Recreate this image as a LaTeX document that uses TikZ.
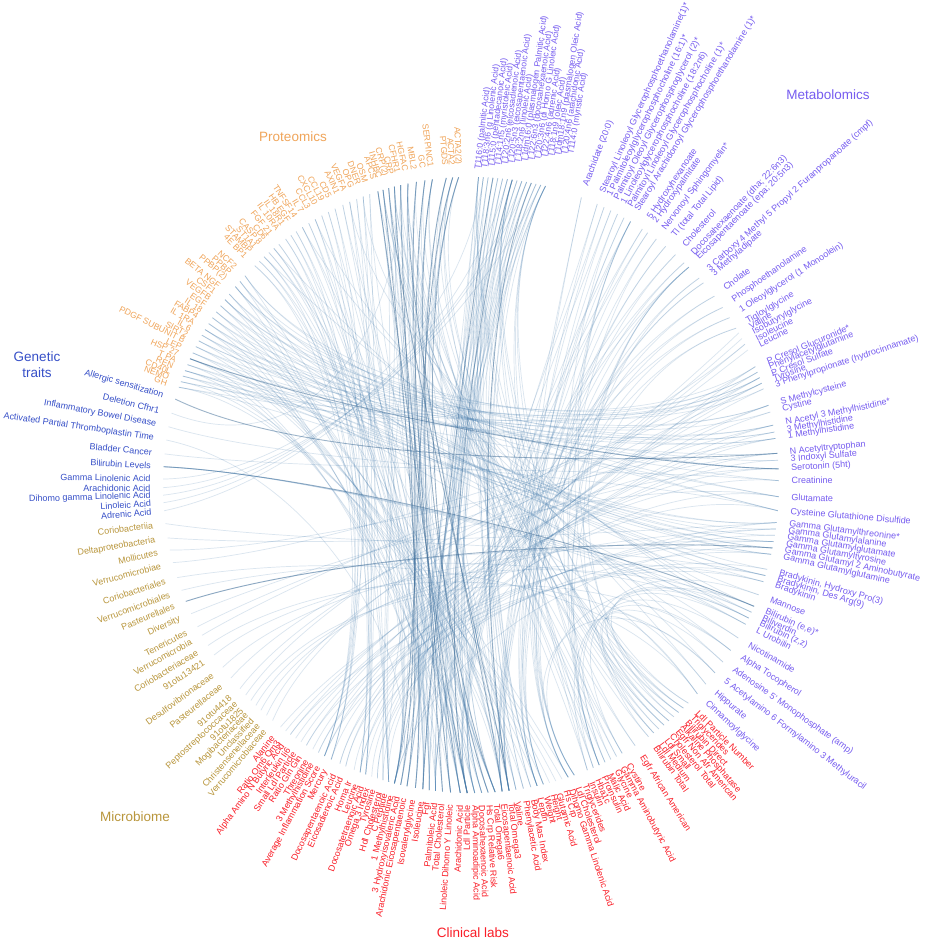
\documentclass[tikz,border=0pt]{standalone}
\usepackage{fontspec}
\setmainfont{Liberation Sans}
\usetikzlibrary{calc}
\definecolor{protC}{RGB}{240,165,90}
\definecolor{metaC}{RGB}{118,92,240}
\definecolor{geneC}{RGB}{55,80,200}
\definecolor{micrC}{RGB}{185,150,60}
\definecolor{clinC}{RGB}{250,30,40}
\definecolor{lineC}{RGB}{70,125,175}
\def\Rl{308}
\def\Rt{320}
\def\curhub{O}
\newcommand\labR[4]{\coordinate (#1) at (#2:\Rl); \coordinate (h#1) at ($(\curhub)!0.12!(#1)$); \node[#4,anchor=west,rotate=#2] (t#1) at (#2:\Rt) {#3};}
\newcommand\labL[4]{\coordinate (#1) at (#2:\Rl); \coordinate (h#1) at ($(\curhub)!0.12!(#1)$); \node[#4,anchor=east,rotate=#2+180] (t#1) at (#2:\Rt) {#3};}
\newcommand\labT[6]{\coordinate (#1) at (#2:\Rl); \coordinate (h#1) at ($(\curhub)!0.12!(#1)$); \node[#4,anchor=west,rotate=#6] (t#1) at (#5) {#3};}
\newcommand\chord[3][chord]{\draw[#1] (#2) .. controls (h#2) and (h#3) .. (#3);}
\begin{document}
\begin{tikzpicture}[x=1pt,y=1pt,
 lbl/.style={font=\fontsize{9}{10}\selectfont, inner sep=0.5pt},
 prot/.style={lbl,text=protC,font=\fontsize{8.6}{10}\selectfont},
 meta/.style={lbl,text=metaC},
 tmeta/.style={lbl,text=metaC,font=\fontsize{8.6}{10}\selectfont},
 gene/.style={lbl,text=geneC},
 micr/.style={lbl,text=micrC},
 clin/.style={lbl,text=clinC},
 chord/.style={draw=lineC,line width=0.7pt,opacity=0.2},
 chordD/.style={draw=lineC!85!black,line width=0.9pt,opacity=0.5},
 title/.style={font=\fontsize{13.5}{16}\selectfont,inner sep=0pt}]
\fill[white] (-471,-457) rectangle (455,485);
\useasboundingbox (-471,-457) rectangle (455,485);
\coordinate (O) at (0,0);
% bundle hubs
\coordinate (hP1) at (-130,70);
\coordinate (hP2) at (-95,115);
\coordinate (hP3) at (-70,140);
\coordinate (hM1) at (-10,135);
\coordinate (hM2) at (70,95);
\coordinate (hM3) at (130,20);
\coordinate (hM4) at (115,-50);
\coordinate (hC1) at (70,-130);
\coordinate (hC2) at (10,-150);
\coordinate (hC3) at (-40,-145);
\coordinate (hC4) at (-90,-125);
\coordinate (hB) at (-125,-65);
\coordinate (hG) at (-140,10);
% ---------------- Proteomics
\def\curhub{hP1}
\labL{p1}{161.5}{GH}{prot}
\labL{p2}{160.4}{NEMO}{prot}
\labL{p3}{159.3}{CD40L}{prot}
\labL{p4}{158.2}{REN}{prot}
\labL{p5}{157.0}{T PA}{prot}
\labL{p6}{155.8}{HSP 27}{prot}
\labL{p7}{154.6}{LEP}{prot}
\labL{p8}{153.3}{PDGF SUBUNIT B}{prot}
\labL{p9}{152.1}{SIRT2}{prot}
\labL{p10}{150.9}{IL 6}{prot}
\labL{p11}{149.7}{IL 1RA}{prot}
\labL{p12}{148.4}{FABP4}{prot}
\labL{p13}{147.1}{IL 18}{prot}
\labL{p14}{145.8}{EGF}{prot}
\labL{p15}{144.4}{VEGFB}{prot}
\labL{p16}{143.0}{CSF1}{prot}
\labL{p17}{141.7}{BETA NGF}{prot}
\labL{p18}{139.9}{PPBP(2)}{prot}
\labL{p19}{138.6}{PPBP}{prot}
\labL{p20}{137.2}{NCF2}{prot}
\def\curhub{hP2}
\labL{p21}{134.6}{4E BP1}{prot}
\labL{p22}{133.4}{STAMBP}{prot}
\labL{p23}{132.2}{ST1A1}{prot}
\labL{p24}{131.0}{CASP 8}{prot}
\labL{p25}{129.8}{CD6}{prot}
\labL{p26}{128.6}{FGF 21}{prot}
\labL{p27}{127.0}{IL 10RA}{prot}
\labL{p28}{125.8}{IL 18R1}{prot}
\labL{p29}{124.6}{HB EGF}{prot}
\labL{p30}{123.2}{TNFSF14}{prot}
\labL{p31}{121.8}{IL 7}{prot}
\labL{p32}{120.4}{CCL3}{prot}
\labL{p33}{119.0}{CXCL10}{prot}
\labL{p34}{117.6}{CCL19}{prot}
\labL{p35}{116.2}{CD5}{prot}
\labL{p36}{114.6}{AXIN1}{prot}
\labL{p37}{113.2}{VEGFA}{prot}
\labL{p38}{111.8}{OPG}{prot}
\labL{p39}{110.5}{DNER}{prot}
\labL{p40}{109.2}{OSM}{prot}
\def\curhub{hP3}
\labL{p41}{107.6}{APCS}{prot}
\labL{p42}{106.6}{INHBC}{prot}
\labL{p43}{105.5}{CRP(2)}{prot}
\labL{p44}{104.4}{CRP}{prot}
\labL{p45}{103.2}{CFHR1}{prot}
\labL{p46}{101.8}{HGFAC}{prot}
\labL{p47}{100.2}{MBL2}{prot}
\labL{p48}{98.6}{GC}{prot}
\labL{p49}{97.2}{SERPINC1}{prot}
\labL{p50}{94.6}{PTGDS}{prot}
\labL{p51}{93.4}{ACTA2}{prot}
\labL{p52}{92.3}{ACTA2(2)}{prot}
% ---------------- Metabolomics
\def\curhub{hM1}
\labT{m1}{88.6}{T116:0 (palmitic Acid)}{tmeta}{7,315}{83.5}
\labT{m2}{87.7}{T118:3n6 (g Linolenic Acid)}{tmeta}{13.6,316.1}{83.3}
\labT{m3}{86.8}{T115:0 (pentadecanoic Acid)}{tmeta}{20.3,317.1}{83.1}
\labT{m4}{85.9}{T114:1n5 (myristoleic Acid)}{tmeta}{26.9,318.2}{82.9}
\labT{m5}{85.0}{T120:2n6 (eicosadienoic Acid)}{tmeta}{33.6,319.3}{82.7}
\labT{m6}{84.1}{T120:5n3 (eicosapentaenoic Acid)}{tmeta}{40.2,320.4}{82.5}
\labT{m7}{83.2}{T118:2n6 (linoleic Acid)}{tmeta}{46.9,321.4}{82.3}
\labT{m8}{82.3}{T1dm16:0 (plasmalogen Palmitic Acid)}{tmeta}{53.5,322.5}{82.1}
\labT{m9}{81.4}{T122:6n3 (docosahexaenoic Acid)}{tmeta}{60.1,323.6}{81.9}
\labT{m10}{80.5}{T120:3n6 (di Homo G Linoleic Acid)}{tmeta}{66.8,324.6}{81.7}
\labT{m11}{79.6}{T122:4n6 (adrenic Acid)}{tmeta}{73.4,325.7}{81.5}
\labT{m12}{78.7}{T118:1n9 (oleic Acid)}{tmeta}{80.1,326.8}{81.3}
\labT{m13}{77.8}{T1dm18:1n9 (plasmalogen Oleic Acid)}{tmeta}{86.7,327.8}{81.1}
\labT{m14}{76.9}{T120:4n6 (arachidonic Acid)}{tmeta}{93.4,328.9}{80.9}
\labT{m15}{76.0}{T114:0 (myristic Acid)}{tmeta}{100,330}{80.7}
\def\curhub{hM2}
\labR{m16}{69.0}{Arachidate (20:0)}{meta}
\labR{m17}{65.8}{Stearoyl Linoleoyl Glycerophosphoethanolamine(1)*}{meta}
\labR{m18}{64.4}{1 Palmitoleoylglycerophosphocholine (16:1)*}{meta}
\labR{m19}{63.0}{Palmitoyl Oleoyl Glycerophosphoglycerol (2)*}{meta}
\labR{m20}{61.6}{1 Linoleoylglycerophosphocholine (18:2n6)}{meta}
\labR{m21}{60.2}{Palmitoyl Linoleoyl Glycerophosphocholine (1)*}{meta}
\labR{m22}{58.8}{Stearoyl Arachidonoyl Glycerophosphoethanolamine (1)*}{meta}
\labR{m23}{56.2}{5 Hydroxyhexanoate}{meta}
\labR{m24}{55.0}{2 Hydroxypalmitate}{meta}
\labR{m25}{53.0}{Nervonoyl Sphingomyelin*}{meta}
\labR{m26}{50.8}{Tl (total Total Lipid)}{meta}
\labR{m27}{48.4}{Cholesterol}{meta}
\labR{m28}{46.2}{Docosahexaenoate (dha; 22:6n3)}{meta}
\labR{m29}{45.0}{Eicosapentaenoate (epa; 20:5n3)}{meta}
\labR{m30}{42.2}{3 Carboxy 4 Methyl 5 Propyl 2 Furanpropanoate (cmpf)}{meta}
\labR{m31}{41.0}{3 Methyladipate}{meta}
\labR{m32}{37.8}{Cholate}{meta}
\labR{m33}{35.2}{Phosphoethanolamine}{meta}
\labR{m34}{32.9}{1 Oleoylglycerol (1 Monoolein)}{meta}
\labR{m35}{30.6}{Tigloylglycine}{meta}
\def\curhub{hM3}
\labR{m36}{29.6}{Valine}{meta}
\labR{m37}{28.4}{Isobutyrylglycine}{meta}
\labR{m38}{27.2}{Isoleucine}{meta}
\labR{m39}{26.0}{Leucine}{meta}
\labR{m40}{22.6}{P Cresol Glucuronide*}{meta}
\labR{m41}{21.5}{Phenylacetylglutamine}{meta}
\labR{m42}{20.4}{P Cresol Sulfate}{meta}
\labR{m43}{19.3}{Tyrosine}{meta}
\labR{m44}{18.2}{3 Phenylpropionate (hydrocinnamate)}{meta}
\labR{m45}{15.0}{S Methylcysteine}{meta}
\labR{m46}{13.7}{Cystine}{meta}
\labR{m47}{11.2}{N Acetyl 3 Methylhistidine*}{meta}
\labR{m48}{9.9}{3 Methylhistidine}{meta}
\labR{m49}{8.7}{1 Methylhistidine}{meta}
\labR{m50}{5.9}{N Acetyltryptophan}{meta}
\labR{m51}{4.6}{3 Indoxyl Sulfate}{meta}
\labR{m52}{3.0}{Serotonin (5ht)}{meta}
\labR{m53}{0.8}{Creatinine}{meta}
\labR{m54}{-2.2}{Glutamate}{meta}
\labR{m55}{-4.8}{Cysteine Glutathione Disulfide}{meta}
\def\curhub{hM4}
\labR{m56}{-7.0}{Gamma Glutamylthreonine*}{meta}
\labR{m57}{-8.2}{Gamma Glutamylalanine}{meta}
\labR{m58}{-9.4}{Gamma Glutamylglutamate}{meta}
\labR{m59}{-10.6}{Gamma Glutamyltyrosine}{meta}
\labR{m60}{-11.8}{Gamma Glutamyl 2 Aminobutyrate}{meta}
\labR{m61}{-13.0}{Gamma Glutamylglutamine}{meta}
\labR{m62}{-15.9}{Bradykinin, Hydroxy Pro(3)}{meta}
\labR{m63}{-17.1}{Bradykinin, Des Arg(9)}{meta}
\labR{m64}{-18.3}{Bradykinin}{meta}
\labR{m65}{-20.9}{Mannose}{meta}
\labR{m66}{-23.2}{Bilirubin (e,e)*}{meta}
\labR{m67}{-24.4}{Biliverdin}{meta}
\labR{m68}{-25.6}{Bilirubin (z,z)}{meta}
\labR{m69}{-26.9}{L Urobilin}{meta}
\labR{m70}{-29.8}{Nicotinamide}{meta}
\labR{m71}{-32.5}{Alpha Tocopherol}{meta}
\labR{m72}{-35.1}{Adenosine 5' Monophosphate (amp)}{meta}
\labR{m73}{-37.6}{5 Acetylamino 6 Formylamino 3 Methyluracil}{meta}
\labR{m74}{-40.3}{Hippurate}{meta}
\labR{m75}{-42.7}{Cinnamoylglycine}{meta}
% ---------------- Clinical labs
\def\curhub{hC1}
\labR{c1}{-45.1}{Ldl Particle Number}{clin}
\labR{c2}{-46.4}{Triglycerides}{clin}
\labR{c3}{-47.6}{Bilirubin Direct}{clin}
\labR{c4}{-48.8}{Alkaline Phosphatase}{clin}
\labR{c5}{-50.0}{Egfr Non Afr American}{clin}
\labR{c6}{-51.2}{Cholesterol Total}{clin}
\labR{c7}{-52.4}{Ldl Small}{clin}
\labR{c8}{-53.6}{Ldl Medium}{clin}
\labR{c9}{-54.8}{Bilirubin Total}{clin}
\labR{c10}{-57.8}{Egfr African American}{clin}
\labR{c11}{-60.6}{Cystine}{clin}
\labR{c12}{-61.8}{Gamma Aminobutyric Acid}{clin}
\labR{c13}{-63.0}{Glycine}{clin}
\labR{c14}{-64.2}{Malic Acid}{clin}
\labR{c15}{-65.4}{Proinsulin}{clin}
\labR{c16}{-66.6}{Hba1c}{clin}
\labR{c17}{-67.8}{Insulin}{clin}
\def\curhub{hC2}
\labR{c18}{-69.2}{Triglycerides}{clin}
\labR{c19}{-70.4}{Ldl Cholesterol}{clin}
\labR{c20}{-71.6}{Dihomo Gamma Linolenic Acid}{clin}
\labR{c21}{-72.8}{Hs Crp}{clin}
\labR{c22}{-74.0}{Glutamic Acid}{clin}
\labR{c23}{-75.2}{Height}{clin}
\labR{c24}{-76.4}{Weight}{clin}
\labR{c25}{-77.6}{Leptin}{clin}
\labR{c26}{-78.8}{Body Mas Index}{clin}
\labR{c27}{-80.2}{Phenylacetic Acid}{clin}
\labR{c28}{-81.6}{Valine}{clin}
\labR{c29}{-82.9}{Total Omega3}{clin}
\labR{c30}{-84.2}{Eicosapentaenoic Acid}{clin}
\def\curhub{hC3}
\labR{c31}{-85.5}{Total Omega6}{clin}
\labR{c32}{-86.8}{Hs Crp Relative Risk}{clin}
\labR{c33}{-88.0}{Docosahexaenoic Acid}{clin}
\labR{c34}{-89.3}{Alpha Aminoadipic Acid}{clin}
\labL{c35}{-90.7}{Ldl Particle}{clin}
\labL{c36}{-92.0}{Arachidonic Acid}{clin}
\labL{c37}{-93.8}{Linoleic Dihomo Y Linoleic}{clin}
\labL{c38}{-95.3}{Total Cholesterol}{clin}
\labL{c39}{-96.6}{Palmitoleic Acid}{clin}
\labL{c40}{-97.8}{Fgf}{clin}
\labL{c41}{-99.0}{Isoleucine}{clin}
\labL{c42}{-100.4}{Isovalerylglycine}{clin}
\labL{c43}{-102.0}{Arachidonic Eicosapentaenoic}{clin}
\labL{c44}{-103.2}{3 Hydroxyisovaleric Acid}{clin}
\labL{c45}{-104.4}{1 Methylhistidine}{clin}
\def\curhub{hC4}
\labL{c46}{-105.5}{C Peptide}{clin}
\labL{c47}{-106.6}{Hdl Cholesterol}{clin}
\labL{c48}{-107.7}{Tyrosine}{clin}
\labL{c49}{-108.8}{Omega 3 Index}{clin}
\labL{c50}{-110.0}{Docosatetraenoic Acid}{clin}
\labL{c51}{-111.1}{Leucine}{clin}
\labL{c52}{-112.3}{Homa Ir}{clin}
\labL{c53}{-114.0}{Eicosadienoic Acid}{clin}
\labL{c54}{-115.2}{Docosapentaenoic Acid}{clin}
\labL{c55}{-117.0}{Mercury}{clin}
\labL{c56}{-118.4}{Average Inflammation Score}{clin}
\labL{c57}{-119.7}{3 Methylhistidine}{clin}
\labL{c58}{-120.9}{Threonine}{clin}
\labL{c59}{-122.3}{Ratio Gln Gln}{clin}
\labL{c60}{-123.5}{Small Ldl Particle}{clin}
\labL{c61}{-124.7}{Interleukin Ii6}{clin}
\labL{c62}{-125.9}{Alpha Amino N Butyric Acid}{clin}
\labL{c63}{-127.0}{Ratio Om6 Om3}{clin}
\labL{c64}{-128.2}{Alanine}{clin}
% ---------------- Microbiome
\def\curhub{hB}
\labL{b1}{-130.1}{Verrucomicrobiaceae}{micr}
\labL{b2}{-131.6}{Christensenellaceae}{micr}
\labL{b3}{-133.0}{Unclassified}{micr}
\labL{b4}{-134.3}{Mogibacteriaceae}{micr}
\labL{b5}{-135.6}{91otu1825}{micr}
\labL{b6}{-137.0}{Peptostreptococcaceae}{micr}
\labL{b7}{-138.6}{91otu4418}{micr}
\labL{b8}{-141.2}{Pasteurellaceae}{micr}
\labL{b9}{-143.7}{Desulfovibrionaceae}{micr}
\labL{b10}{-146.5}{91otu13421}{micr}
\labL{b11}{-148.6}{Coriobacteriaceae}{micr}
\labL{b12}{-150.8}{Verrucomicrobia}{micr}
\labL{b13}{-152.6}{Tenericutes}{micr}
\labL{b14}{-155.3}{Diversity}{micr}
\labL{b15}{-157.8}{Pasteurellales}{micr}
\labL{b16}{-160.0}{Verrucomicrobiales}{micr}
\labL{b17}{-162.5}{Coriobacteriales}{micr}
\labL{b18}{-165.4}{Verrucomicrobiae}{micr}
\labL{b19}{-167.8}{Mollicutes}{micr}
\labL{b20}{-170.1}{Deltaproteobacteria}{micr}
\labL{b21}{-172.8}{Coriobacteriia}{micr}
% ---------------- Genetic traits
\def\curhub{hG}
\labL{g1}{184.8}{Adrenic Acid}{gene}
\labL{g2}{183.3}{Linoleic Acid}{gene}
\labL{g3}{181.9}{Dihomo gamma Linolenic Acid}{gene}
\labL{g4}{180.5}{Arachidonic Acid}{gene}
\labL{g5}{178.9}{Gamma Linolenic Acid}{gene}
\labL{g6}{176.6}{Bilirubin Levels}{gene}
\labL{g7}{174.2}{Bladder Cancer}{gene}
\labL{g8}{171.6}{Activated Partial Thromboplastin Time}{gene}
\labL{g9}{169.1}{Inflammatory Bowel Disease}{gene}
\labL{g10}{166.5}{Deletion Cfhr1}{gene}
\labL{g11}{163.8}{Allergic sensitization}{gene}
% ---------------- Titles
\node[title,text=protC] (tP) at (-178,348) {Proteomics};
\node[title,text=metaC] (tM) at (357,390) {Metabolomics};
\node[title,text=geneC,align=center] (tG) at (-434,120) {Genetic\\traits};
\node[title,text=micrC] (tB) at (-336,-332) {Microbiome};
\node[title,text=clinC] (tC) at (2,-448) {Clinical labs};
% ---------------- Connectors
\foreach \i in {41,...,52}{\foreach \k in {0,...,2}{%
 \pgfmathtruncatemacro{\j}{28+mod(\i*7+\k*5,20)}%
 \ifnum\k=0 \chord[chordD]{p\i}{c\j}\else\chord{p\i}{c\j}\fi}}
\foreach \i in {21,...,40}{\foreach \k in {0,1}{%
 \pgfmathtruncatemacro{\j}{30+mod(\i*5+\k*11,30)}\chord{p\i}{c\j}}}
\foreach \i in {1,...,20}{\foreach \k in {0,1}{%
 \pgfmathtruncatemacro{\j}{40+mod(\i*7+\k*13,25)}\chord{p\i}{m\j}}}
\foreach \i in {1,...,20}{%
 \pgfmathtruncatemacro{\j}{20+mod(\i*3,20)}\chord{p\i}{c\j}}
\foreach \i in {1,...,15}{\foreach \k in {0,1,2}{%
 \pgfmathtruncatemacro{\j}{25+mod(\i*4+\k*7,22)}%
 \pgfmathtruncatemacro{\d}{mod(\i,4)+\k}%
 \ifnum\d=0 \chord[chordD]{m\i}{c\j}\else\chord{m\i}{c\j}\fi}}
\foreach \i in {16,...,35}{\foreach \k in {0,1}{%
 \pgfmathtruncatemacro{\j}{15+mod(\i*5+\k*9,25)}\chord{m\i}{c\j}}}
\foreach \i in {36,...,64}{%
 \pgfmathtruncatemacro{\j}{45+mod(\i*3,20)}\chord{m\i}{c\j}}
\foreach \i in {1,...,21}{%
 \pgfmathtruncatemacro{\j}{36+mod(\i*7,40)}\chord{b\i}{m\j}}
\foreach \i in {65,...,75}{%
 \pgfmathtruncatemacro{\j}{1+mod(\i*3,20)}\chord{m\i}{c\j}%
 \pgfmathtruncatemacro{\q}{1+mod(\i*7,40)}\chord{m\i}{p\q}}
\foreach \i in {1,...,17}{%
 \pgfmathtruncatemacro{\j}{1+mod(\i*7,35)}\chord{c\i}{m\j}%
 \pgfmathtruncatemacro{\q}{41+mod(\i*5,12)}\chord{c\i}{p\q}}
\chord[chordD]{g6}{m66}
\chord{g6}{m67}
\chord{g6}{m68}
\chord{g6}{m69}
\chord{g5}{m2}
\chord{g4}{m14}
\chord{g3}{m10}
\chord{g2}{m7}
\chord{g1}{m11}
\chord{g10}{p45}
\chord[chordD]{g11}{m50}
\chord{g7}{m53}
\chord{g8}{c44}
\chord{g9}{m55}
\chord[chordD]{b15}{m60}
\chord[chordD]{p6}{m52}
\end{tikzpicture}
\end{document}
